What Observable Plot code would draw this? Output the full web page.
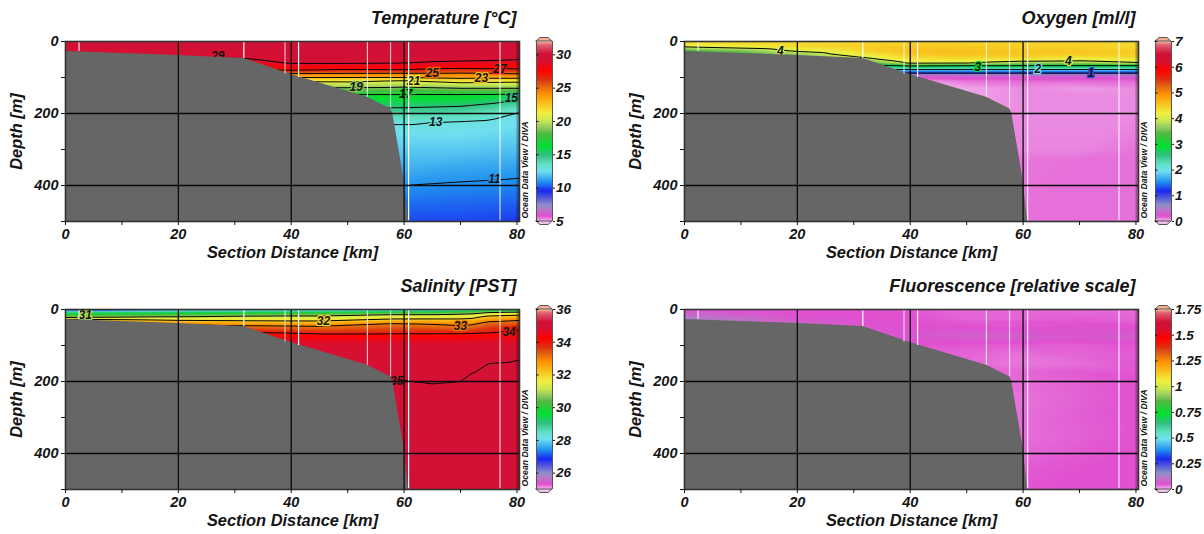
<!DOCTYPE html>
<html><head><meta charset="utf-8">
<script src="https://cdn.jsdelivr.net/npm/d3@7"></script>
<script src="https://cdn.jsdelivr.net/npm/@observablehq/plot@0.6"></script>
<style>
html,body{margin:0;padding:0;background:#fff;overflow:hidden}
#page{position:relative;width:1204px;height:534px}
#page svg{position:absolute}
</style></head><body><div id="page"></div>
<script>
// Stations and sea floor
const stationKm     = [2.4, 31.6, 38.9, 41.3, 53.5, 57.6, 60.8, 77];
const stationBottom = [28, 47, 90, 100, 155, 187, 498, 498];
const stationAlpha  = [.85, 1, .7, 1, .75, .65, 1, .8];
const floorKm    = [0, 10, 20, 31.6, 40, 53.5, 57.6, 58, 60, 60.8];
const floorDepth = [28, 33, 39, 47, 92, 155, 187, 200, 385, 500];
// Colour stops (position 0–1 along each colour bar)
const rampStops  = [0,.03,.06,.09,.17,.22,.28,.32,.37,.42,.49,.52,.56,.6,.65,.71,.755,.79,.84,.89,.93,.98,1];
const rampColors = ["#f4c0f0","#e050d0","#c070c8","#9090c8","#1a28f0","#2090f0","#70e0f0","#60e0c0","#30c080","#00e030","#50b840","#90c860","#c8e850","#f0f040","#f8c820","#ff9000","#e06010","#e03010","#ff0000","#d81030","#d01038","#e06070","#f8b090"];

// Temperature
const tempKm = [0, 20, 32, 40, 50, 60, 70, 76, 80.5];
const tempDepth = [0,40,50,60,70,80,90,100,110,120,130,147,160,180,200,225,260,300,350,400,450,500];
const tempRows = [
[30.2,30.2,30.2,30.2,30.2,30.2,30.2,30.2,30.2],
[29.0,29.2,29.5,30.0,30.0,29.8,29.8,29.7,29.6],
[28.5,28.7,28.8,29.6,29.7,29.5,29.3,29.2,29.0],
[28.2,28.3,28.3,29.1,29.1,29.0,28.6,28.5,28.4],
[27.8,27.8,27.8,28.1,28.0,27.9,27.6,27.6,27.6],
[26.8,26.8,26.8,27.0,26.7,26.8,26.3,26.5,26.6],
[24.8,24.8,24.8,24.8,24.7,24.6,24.6,24.8,25.0],
[23.0,23.0,23.0,23.0,23.0,23.0,23.4,23.4,23.4],
[21.2,21.2,21.2,21.2,21.3,20.8,21.7,21.5,21.4],
[20.0,20.0,20.0,20.0,20.0,19.6,20.2,20.1,20.1],
[18.8,18.8,18.8,18.8,18.8,18.7,19.0,19.0,19.0],
[17.0,17.0,17.0,17.0,17.0,17.0,17.0,17.0,17.1],
[16.2,16.2,16.2,16.2,16.2,16.3,16.2,15.7,14.8],
[15.2,15.2,15.2,15.2,15.2,15.2,15.0,14.5,13.9],
[14.2,14.2,14.2,14.2,14.2,14.2,14.0,13.5,12.9],
[13.1,13.1,13.1,13.1,13.1,13.1,12.9,12.7,12.6],
[12.5,12.5,12.5,12.5,12.5,12.5,12.5,12.4,12.3],
[12.1,12.1,12.1,12.1,12.1,12.1,12.1,12.0,11.9],
[11.6,11.6,11.6,11.6,11.6,11.6,11.4,11.35,11.3],
[11.0,11.0,11.0,11.0,11.0,11.0,10.9,10.85,10.8],
[10.5,10.5,10.5,10.5,10.5,10.5,10.4,10.35,10.3],
[10.0,10.0,10.0,10.0,10.0,10.0,10.0,9.9,9.8]];
const tempLevels = [11,13,15,17,19,21,23,25,27,29];
const tempLabelKm    = [27, 77, 65, 73.7, 61.7, 51.5, 60.3, 79, 65.6, 76];
const tempLabelDepth = [42, 76, 88, 103, 109, 128, 147, 158, 225, 381];
const tempLabelValue = [29, 27, 25, 23, 21, 19, 17, 15, 13, 11];

// Oxygen
const oxyKm = [0, 10, 20, 32, 40, 50, 60, 70, 80.5];
const oxyDepth = [0,5,15,25,35,45,55,60,67,78,88,95,100,110,130,150,200,300,330,500];
const oxyRows = [
[4.35,4.4,4.4,4.4,4.4,4.4,4.4,4.4,4.35],
[4.35,4.4,4.4,4.45,4.45,4.45,4.45,4.45,4.4],
[4.0,4.2,4.4,4.5,4.55,4.55,4.5,4.5,4.4],
[3.4,3.6,4.1,4.45,4.6,4.6,4.55,4.55,4.5],
[3.2,3.3,3.7,4.3,4.55,4.6,4.55,4.55,4.5],
[3.0,3.1,3.4,4.0,4.4,4.45,4.45,4.3,4.4],
[2.9,3.0,3.1,3.5,4.2,4.2,4.0,3.95,4.1],
[2.9,2.9,3.0,3.3,4.05,4.0,3.7,3.7,3.95],
[2.6,2.6,2.7,2.9,3.1,3.0,3.0,3.0,3.0],
[2.0,2.0,2.0,2.0,2.0,2.0,2.0,2.0,2.0],
[1.0,1.0,1.0,1.0,1.0,1.0,1.0,1.0,1.0],
[.32,.32,.32,.32,.32,.32,.32,.32,.32],
[.28,.28,.28,.28,.22,.27,.28,.28,.28],
[.1,.1,.1,.1,.05,.14,.16,.16,.16],
[.1,.1,.1,.1,.04,.05,.1,.07,.1],
[.1,.1,.1,.1,.05,.05,.1,.1,.1],
[.1,.1,.1,.1,.1,.1,.1,.1,.1],
[.1,.1,.1,.1,.1,.1,.11,.11,.14],
[.15,.15,.15,.15,.15,.15,.14,.15,.15],
[.15,.15,.15,.15,.15,.15,.15,.15,.15]];
const oxyLevels = [1,2,3,4];
const oxyLabelKm    = [17, 52, 62.6, 72, 68];
const oxyLabelDepth = [27, 71, 78, 88, 54];
const oxyLabelValue = [4, 3, 2, 1, 4];

// Salinity
const salKm = [0, 20, 32, 45, 58, 65, 70, 72, 75, 80.5];
const salDepth = [0,2,5,8,12,16,20,25,30,40,50,60,70,80,90,100,120,140,150,175,200,210,250,500];
const salRows = [
[26.0,27.0,27.0,27.3,27.5,27.5,27.8,28.0,28.5,29.0],
[26.8,27.8,28.0,28.0,28.0,28.2,28.5,28.8,29.0,29.5],
[28.0,28.6,28.8,28.9,29.2,29.3,29.6,29.8,30.1,30.2],
[29.0,29.3,29.5,29.7,30.0,30.0,30.2,30.4,31.0,31.3],
[29.7,29.9,30.1,30.3,30.7,30.7,30.9,31.0,31.5,31.7],
[30.2,30.5,30.7,30.8,31.2,31.2,31.3,31.4,31.8,32.0],
[30.6,31.0,31.2,31.2,31.5,31.5,31.6,31.7,32.2,32.4],
[31.5,31.4,31.5,31.5,31.9,31.9,31.9,32.0,32.5,32.7],
[32.5,32.0,31.9,31.85,32.3,32.3,32.3,32.4,32.8,33.0],
[33.5,32.9,32.7,32.6,33.05,32.95,32.8,32.9,33.3,33.4],
[33.8,33.4,33.3,33.2,33.4,33.3,33.2,33.3,33.6,33.8],
[34.0,33.8,33.9,33.6,33.7,33.7,33.7,33.7,33.8,34.1],
[34.3,34.2,34.2,34.1,34.1,34.1,34.1,34.15,34.2,34.4],
[34.5,34.5,34.5,34.4,34.4,34.4,34.4,34.45,34.5,34.6],
[34.7,34.7,34.7,34.7,34.7,34.7,34.7,34.7,34.7,34.7],
[34.8,34.8,34.8,34.8,34.8,34.8,34.8,34.8,34.8,34.8],
[34.88,34.88,34.88,34.88,34.88,34.88,34.88,34.9,34.92,34.92],
[34.9,34.9,34.9,34.9,34.9,34.88,34.92,34.95,34.98,35.0],
[34.9,34.9,34.9,34.9,34.92,34.9,34.93,34.96,35.0,35.01],
[34.92,34.92,34.92,34.92,34.96,34.94,34.96,34.998,35.01,35.02],
[34.94,34.94,34.94,34.94,35.02,34.98,35.0,35.02,35.02,35.03],
[34.96,34.96,34.96,34.96,35.03,35.01,35.02,35.03,35.03,35.04],
[35.05,35.05,35.05,35.05,35.05,35.05,35.05,35.05,35.05,35.05],
[35.1,35.1,35.1,35.1,35.1,35.1,35.1,35.1,35.1,35.1]];
const salLevels = [31,32,33,34,35];
const salLabelKm    = [3.5, 45.7, 70, 78.6, 58.7];
const salLabelDepth = [16, 32, 45, 62, 199];
const salLabelValue = [31, 32, 33, 34, 35];

// Fluorescence
const fluoKm = [0, 10, 20, 32, 40, 50, 60, 70, 80.5];
const fluoDepth = [0,15,25,35,50,65,75,85,100,130,150,175,200,250,300,350,400,450,500];
const fluoRows = [
[.05,.052,.052,.052,.048,.042,.042,.042,.04],
[.1,.07,.055,.052,.052,.042,.042,.042,.042],
[.13,.11,.06,.052,.052,.042,.042,.046,.042],
[.12,.1,.08,.055,.052,.048,.05,.05,.046],
[.09,.09,.08,.06,.055,.055,.05,.055,.055],
[.08,.08,.08,.065,.06,.068,.065,.06,.065],
[.07,.07,.07,.07,.06,.08,.08,.062,.085],
[.06,.06,.06,.06,.055,.06,.06,.055,.06],
[.052,.052,.052,.052,.05,.048,.046,.046,.05],
[.052,.052,.052,.052,.05,.042,.036,.042,.048],
[.052,.052,.052,.052,.05,.04,.034,.038,.05],
[.052,.052,.052,.052,.05,.042,.042,.048,.05],
[.052,.052,.052,.052,.05,.042,.04,.045,.052],
[.052,.052,.052,.052,.05,.042,.036,.044,.052],
[.052,.052,.052,.052,.05,.042,.038,.046,.052],
[.052,.052,.052,.052,.05,.042,.038,.044,.052],
[.052,.052,.052,.052,.05,.042,.042,.048,.053],
[.052,.052,.052,.052,.05,.042,.048,.052,.053],
[.052,.052,.052,.052,.05,.042,.05,.053,.053]];

// Colour-bar ranges and ticks
const tempBar = [5, 32],   tempTicks = [5,10,15,20,25,30];
const oxyBar  = [0, 7],    oxyTicks  = [0,1,2,3,4,5,6,7];
const salBar  = [25, 36],  salTicks  = [26,28,30,32,34,36];
const fluoBar = [0, 1.75], fluoTicks = [0,.25,.5,.75,1,1.25,1.5,1.75];

const FONT = "'Liberation Sans',Arial,sans-serif";
const INK = "#141414";
const textStyle = {fontFamily: FONT, fontStyle: "italic", fontWeight: "bold", background: "transparent", overflow: "visible"};
const page = document.getElementById("page");

function table(kms, depths, rows) {
  return depths.flatMap((depth, i) => kms.map((km, j) => ({km, depth, v: rows[i][j]})));
}
function place(svg, left, top) { svg.style.left = left + "px"; svg.style.top = top + "px"; page.appendChild(svg); }

function panel({left, top, title, km, depth, rows, bar, ticks, levels, labelKm, labelDepth, labelValue}) {
  const data = table(km, depth, rows);
  const color = {type: "linear", domain: rampStops.map(t => bar[0] + t * (bar[1] - bar[0])), range: rampColors, clamp: true};
  const labels = (labelKm || []).map((k, i) => ({km: k, depth: labelDepth[i], v: labelValue[i]}));
  const floor = floorKm.map((k, i) => ({km: k, depth: floorDepth[i]}));
  const stations = stationKm.map((k, i) => ({km: k, depth: stationBottom[i], a: stationAlpha[i]}));
  const main = Plot.plot({
    width: 530, height: 268, marginLeft: 65, marginRight: 11, marginTop: 41, marginBottom: 47,
    style: textStyle,
    x: {domain: [0, 80.45], range: [65, 519]},
    y: {domain: [500, 0], range: [221, 41]},
    color,
    marks: [
      Plot.raster(data, {x: "km", y: "depth", fill: "v", interpolate: "barycentric", pixelSize: 1}),
      levels ? Plot.contour(data, {x: "km", y: "depth", value: "v", thresholds: levels, interpolate: "barycentric", pixelSize: 1, stroke: "#050505", strokeWidth: 1, fill: "none"}) : null,
      Plot.text(labels, {x: "km", y: "depth", text: d => String(d.v), stroke: "v", strokeWidth: 2.5, fill: "#141414", fontSize: 12}),
      Plot.areaY(floor, {x: "km", y1: 500, y2: "depth", fill: "#666666"}),
      Plot.ruleX(stations, {x: "km", y1: 0, y2: "depth", stroke: "#fff", strokeWidth: 1.2, strokeOpacity: "a"}),
      Plot.rect([80], {x1: 80, x2: 80.45, y1: 0, y2: 500, fill: "#000", fillOpacity: .28}),
      Plot.ruleX([20, 40, 60], {stroke: "#0a0a0a", strokeWidth: 1.3}),
      Plot.ruleY([200, 400], {stroke: "#0a0a0a", strokeWidth: 1.3}),
      Plot.frame({stroke: "#333", strokeWidth: 1.6}),
      Plot.axisX({ticks: d3.range(0, 81, 10), tickSize: 4, tickPadding: 3, fontSize: 14.5, label: null, tickFormat: d => d % 20 === 0 ? String(d) : "", stroke: INK, fill: INK}),
      Plot.axisY({ticks: d3.range(0, 501, 100), tickSize: 4, tickPadding: 3, fontSize: 14.5, label: null, tickFormat: d => d % 200 === 0 ? String(d) : "", stroke: INK, fill: INK}),
      Plot.text(["Section Distance [km]"], {frameAnchor: "bottom", dy: 36, fontSize: 16.4, fill: INK}),
      Plot.text(["Depth [m]"], {frameAnchor: "left", dx: -49, rotate: -90, textAnchor: "middle", fontSize: 16.4, fill: INK}),
      Plot.text([title], {frameAnchor: "top-right", dy: -30, dx: -3, textAnchor: "end", fontSize: 18, fill: INK}),
      Plot.text(["Ocean Data View / DIVA"], {frameAnchor: "bottom-right", dx: 8, dy: -3, rotate: -90, textAnchor: "start", fontSize: 8.7, fill: INK})
    ]
  });
  place(main, left, top);

  const span = bar[1] - bar[0];
  const tip = span * 3.5 / 180;
  const capX = [0, .25, .75, 1];
  const capH = [0, 1, 1, 0];
  const caps = capX.map((x, i) => ({x, h: capH[i]}));
  const legend = Plot.plot({
    width: 85, height: 240, marginLeft: 6, marginRight: 63, marginTop: 41, marginBottom: 19,
    style: textStyle,
    x: {domain: [0, 1], range: [6, 22], axis: null},
    y: {domain: bar, range: [221, 41]},
    color,
    marks: [
      Plot.raster({fill: (x, y) => y, x1: 0, x2: 1, y1: bar[0], y2: bar[1], pixelSize: 1}),
      Plot.areaY(caps, {x: "x", y1: bar[1], y2: d => bar[1] + tip * d.h, fill: rampColors[rampColors.length - 1], stroke: "#555", strokeWidth: 1, clip: false}),
      Plot.areaY(caps, {x: "x", y1: bar[0], y2: d => bar[0] - tip * d.h, fill: rampColors[0], stroke: "#555", strokeWidth: 1, clip: false}),
      Plot.ruleX([0, 1], {y1: bar[0], y2: bar[1], stroke: "#555", strokeWidth: 1}),
      Plot.ruleY(ticks, {x1: 0, x2: .16, stroke: INK, strokeWidth: 1}),
      Plot.axisY({anchor: "right", ticks, tickSize: 2, tickPadding: 1.5, fontSize: 13.5, label: null, stroke: INK, fill: INK, tickFormat: d => String(d)})
    ]
  });
  place(legend, left + 530, top);
}

panel({left: 0, top: 0, title: "Temperature [°C]", km: tempKm, depth: tempDepth, rows: tempRows, bar: tempBar, ticks: tempTicks, levels: tempLevels, labelKm: tempLabelKm, labelDepth: tempLabelDepth, labelValue: tempLabelValue});
panel({left: 619, top: 0, title: "Oxygen [ml/l]", km: oxyKm, depth: oxyDepth, rows: oxyRows, bar: oxyBar, ticks: oxyTicks, levels: oxyLevels, labelKm: oxyLabelKm, labelDepth: oxyLabelDepth, labelValue: oxyLabelValue});
panel({left: 0, top: 268, title: "Salinity [PST]", km: salKm, depth: salDepth, rows: salRows, bar: salBar, ticks: salTicks, levels: salLevels, labelKm: salLabelKm, labelDepth: salLabelDepth, labelValue: salLabelValue});
panel({left: 619, top: 268, title: "Fluorescence [relative scale]", km: fluoKm, depth: fluoDepth, rows: fluoRows, bar: fluoBar, ticks: fluoTicks});
</script></body></html>
